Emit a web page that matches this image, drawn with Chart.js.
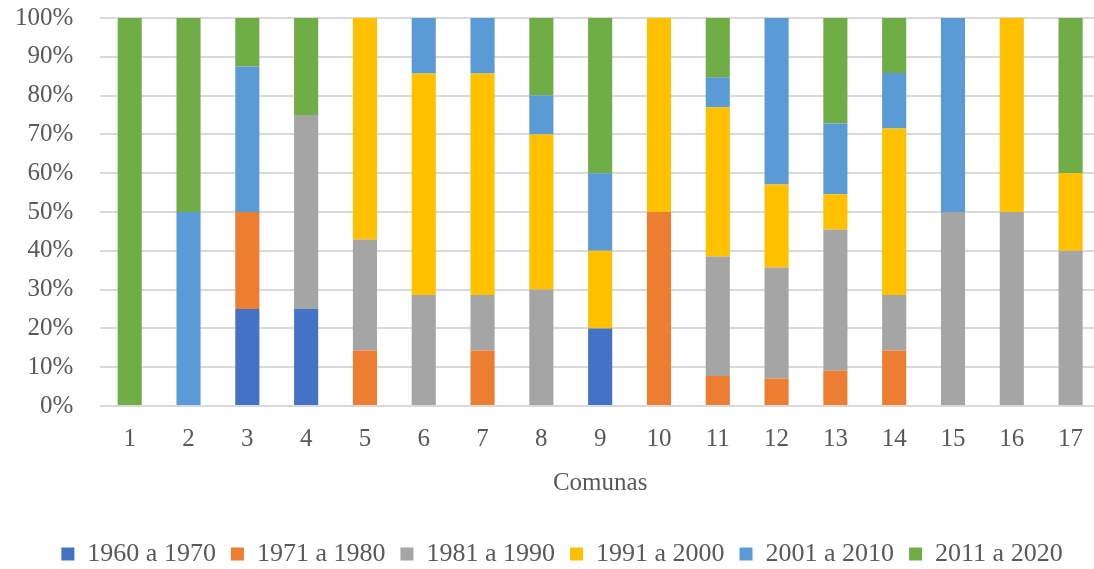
<!DOCTYPE html>
<html><head><meta charset="utf-8">
<script src="https://cdn.jsdelivr.net/npm/chart.js@4"></script>
<style>html,body{margin:0;padding:0;background:#fff;overflow:hidden}#wrap{width:1100px;height:569px;position:relative}</style>
</head><body><div id="wrap"><canvas id="c"></canvas></div>
<script>
const categories = ['1','2','3','4','5','6','7','8','9','10','11','12','13','14','15','16','17'];
const seriesNames = ['1960 a 1970','1971 a 1980','1981 a 1990','1991 a 2000','2001 a 2010','2011 a 2020'];
const s1960 = [0,0,25,25,0,0,0,0,20,0,0,0,0,0,0,0,0];
const s1971 = [0,0,25,0,14.3,0,14.3,0,0,50,7.7,7.1,9.1,14.3,0,0,0];
const s1981 = [0,0,0,50,28.6,28.6,14.3,30,0,0,30.8,28.6,36.4,14.3,50,50,40];
const s1991 = [0,0,0,0,57.1,57.1,57.1,40,20,50,38.5,21.4,9.1,42.9,0,50,20];
const s2001 = [0,50,37.5,0,0,14.3,14.3,10,20,0,7.7,42.9,18.2,14.3,50,0,0];
const s2011 = [100,50,12.5,25,0,0,0,20,40,0,15.4,0,27.3,14.3,0,0,40];
const yTicks = ['0%','10%','20%','30%','40%','50%','60%','70%','80%','90%','100%'];
const colors = ['#4472C4','#ED7D31','#A5A5A5','#FFC000','#5B9BD5','#70AD47'];
const values = [s1960,s1971,s1981,s1991,s2001,s2011];
const FONT = "'Liberation Serif', 'DejaVu Serif', serif";
const TXT = '#595959';
const shiftLegend = {
  id:'shiftLegend',
  afterLayout(chart){ const l = chart.legend; if(l){ l.left += 6; l.right += 6; } }
};
new Chart(document.getElementById('c'), {
  type: 'bar',
  data: {
    labels: categories,
    datasets: seriesNames.map((n,i)=>({label:n,data:values[i],backgroundColor:colors[i],borderWidth:0,barPercentage:0.41,categoryPercentage:1}))
  },
  plugins:[shiftLegend],
  options: {
    responsive:true, maintainAspectRatio:false, animation:false,
    layout:{padding:{left:12,right:0,top:1,bottom:-8}},
    plugins:{
      tooltip:{enabled:false},
      legend:{position:'bottom',labels:{font:{family:FONT,size:26},color:TXT,boxWidth:13,boxHeight:13,padding:15}},
    },
    scales:{
      x:{stacked:true,grid:{display:false},border:{display:false},
         ticks:{font:{family:FONT,size:25},color:TXT,padding:10},
         title:{display:true,text:'Comunas',font:{family:FONT,size:25},color:TXT,padding:{top:4,bottom:28}}},
      y:{stacked:true,min:0,max:100,
         grid:{color:'#d9d9d9',lineWidth:2,drawTicks:true,tickLength:24,tickColor:'rgba(0,0,0,0)'},border:{display:false},
         ticks:{stepSize:10,font:{family:FONT,size:25},color:TXT,padding:3,callback:(v,i)=>yTicks[i]}}
    }
  }
});
</script></body></html>
